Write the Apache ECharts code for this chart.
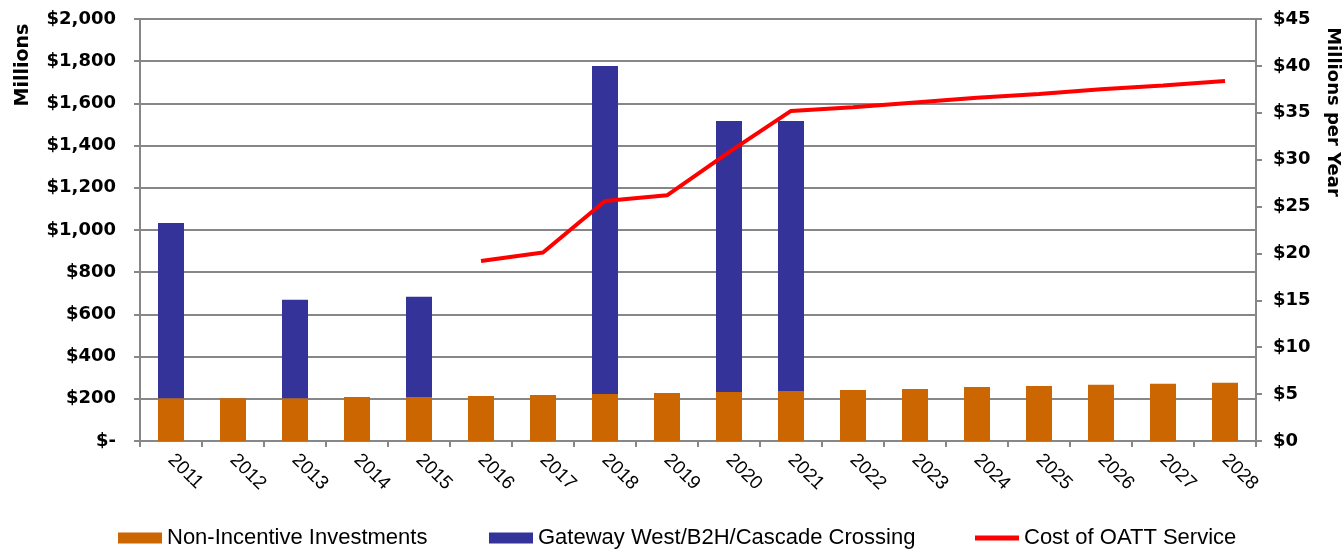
<!DOCTYPE html>
<html>
<head>
<meta charset="utf-8">
<script src="https://cdn.jsdelivr.net/npm/echarts@6/dist/echarts.min.js"></script>
<style>
html,body{margin:0;padding:0;background:#fff;}
#chart{width:1344px;height:550px;}
</style>
</head>
<body>
<div id="chart"></div>
<script>
var years = ['2011','2012','2013','2014','2015','2016','2017','2018','2019','2020','2021','2022','2023','2024','2025','2026','2027','2028'];
var nonIncentive = [203,203,203,208,208,213,218,223,227,232,237,242,247,256,261,266,271,276];
var gateway = [830,null,467,null,476,null,null,1554,null,1285,1280,null,null,null,null,null,null,null];
var oattCost = [null,null,null,null,null,19.2,20.1,25.6,26.2,30.8,35.2,35.6,36.1,36.6,37.0,37.5,37.9,38.4];
var leftTicks = {min:0, max:2000, interval:200};
var rightTicks = {min:0, max:45, interval:5};
var names = ['Non-Incentive Investments','Gateway West/B2H/Cascade Crossing','Cost of OATT Service'];

var gray = '#878787';
var chart = echarts.init(document.getElementById('chart'), null, {renderer:'canvas'});
var legendText = {fontFamily:'Liberation Sans', fontSize:22, color:'#000', lineHeight:22};
chart.setOption({
  animation:false,
  backgroundColor:'#fff',
  grid:{left:140, right:88, top:19, bottom:109, containLabel:false},
  legend:[
    {data:[{name:names[0], icon:'rect', itemStyle:{color:'#CC6600'}}], left:118, top:527, padding:0, itemWidth:44, itemHeight:11, itemGap:0, textStyle:legendText, selectedMode:false},
    {data:[{name:names[1], icon:'rect', itemStyle:{color:'#333399'}}], left:489, top:527, padding:0, itemWidth:44, itemHeight:11, itemGap:0, textStyle:legendText, selectedMode:false},
    {data:[{name:names[2], icon:'rect', itemStyle:{color:'#FF0000', borderWidth:0}, lineStyle:{color:'#FF0000', width:0}}], left:975, top:527, padding:0, itemWidth:44, itemHeight:5, itemGap:0, textStyle:legendText, selectedMode:false}
  ],
  graphic:[
    {type:'text', x:23, y:65, rotation:Math.PI/2, style:{text:'Millions', fontFamily:'DejaVu Sans', fontWeight:'bold', fontSize:19, fill:'#000', align:'center', verticalAlign:'middle'}},
    {type:'text', x:1333, y:112, rotation:-Math.PI/2, style:{text:'Millions per Year', fontFamily:'DejaVu Sans', fontWeight:'bold', fontSize:18, fill:'#000', align:'center', verticalAlign:'middle'}}
  ],
  xAxis:{
    type:'category', data:years, boundaryGap:true,
    axisLine:{show:true, lineStyle:{color:gray, width:2}},
    axisTick:{show:true, alignWithLabel:false, length:6, lineStyle:{color:gray, width:2}},
    axisLabel:{interval:0, rotate:-45, margin:16, fontFamily:'Liberation Sans', fontSize:19, color:'#000'},
    splitLine:{show:false}
  },
  yAxis:[
    {type:'value', min:leftTicks.min, max:leftTicks.max, interval:leftTicks.interval, position:'left',
     axisLine:{show:true, lineStyle:{color:gray, width:2}},
     axisTick:{show:true, length:6, lineStyle:{color:gray, width:2}},
     axisLabel:{margin:24, fontFamily:'DejaVu Sans', fontWeight:'bold', fontSize:18, color:'#000',
       formatter:function(v){ if(v===0) return '$-'; return '$' + v.toString().replace(/\B(?=(\d{3})+(?!\d))/g, ','); }},
     splitLine:{show:true, lineStyle:{color:gray, width:2}}
    },
    {type:'value', min:rightTicks.min, max:rightTicks.max, interval:rightTicks.interval, position:'right',
     axisLine:{show:true, lineStyle:{color:gray, width:2}},
     axisTick:{show:true, length:6, lineStyle:{color:gray, width:2}},
     axisLabel:{margin:17, fontFamily:'DejaVu Sans', fontWeight:'bold', fontSize:18, color:'#000',
       formatter:function(v){ return '$' + v; }},
     splitLine:{show:false}
    }
  ],
  series:[
    {name:names[0], type:'bar', stack:'inv', data:nonIncentive, barWidth:26, itemStyle:{color:'#CC6600'}, yAxisIndex:0},
    {name:names[1], type:'bar', stack:'inv', data:gateway, barWidth:26, itemStyle:{color:'#333399'}, yAxisIndex:0},
    {name:names[2], type:'line', data:oattCost, yAxisIndex:1, symbol:'none', connectNulls:false,
     itemStyle:{color:'#FF0000'}, lineStyle:{color:'#FF0000', width:4}, z:5}
  ]
});
</script>
</body>
</html>
